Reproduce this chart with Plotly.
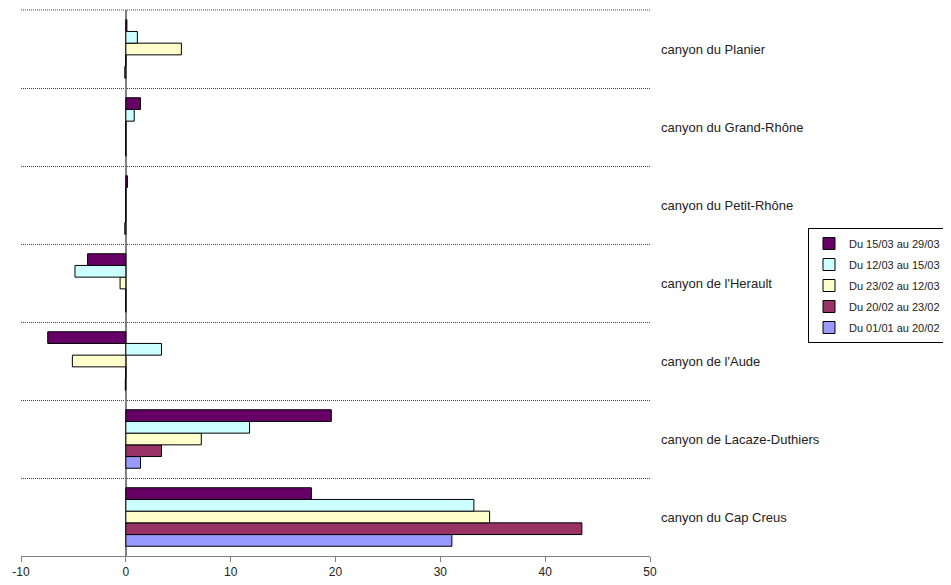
import plotly.graph_objects as go

categories = ["canyon du Cap Creus", "canyon de Lacaze-Duthiers", "canyon de l'Aude",
              "canyon de l'Herault", "canyon du Petit-Rhône", "canyon du Grand-Rhône",
              "canyon du Planier"]

# values listed in the same order as categories (bottom to top)
s_0101_2002 = [31.1, 1.4, -0.05, 0.0, -0.1, 0.0, -0.1]
s_2002_2302 = [43.5, 3.4, 0.0, 0.0, 0.0, 0.0, 0.0]
s_2302_1203 = [34.7, 7.2, -5.1, -0.55, 0.0, 0.0, 5.3]
s_1203_1503 = [33.2, 11.8, 3.4, -4.85, 0.0, 0.8, 1.1]
s_1503_2903 = [17.7, 19.6, -7.45, -3.65, 0.15, 1.4, 0.1]

series_names = ["Du 01/01 au 20/02", "Du 20/02 au 23/02", "Du 23/02 au 12/03",
                "Du 12/03 au 15/03", "Du 15/03 au 29/03"]
series_values = [s_0101_2002, s_2002_2302, s_2302_1203, s_1203_1503, s_1503_2903]
series_colors = ["#9999FF", "#993366", "#FFFFCC", "#CCFFFF", "#660066"]

x_ticks = [-10, 0, 10, 20, 30, 40, 50]

W, H = 943, 577  # page body has an 8px margin

fig = go.Figure()
n = len(series_names)
for i, (name, vals, col) in enumerate(zip(series_names, series_values, series_colors)):
    fig.add_trace(go.Bar(
        y=categories, x=vals, name=name, orientation="h",
        legendgroup=f"g{i}", legendrank=100 + (n - i),
        marker=dict(color=col, line=dict(color="#000000", width=1)),
    ))

fig.update_layout(
    width=W, height=H,
    paper_bgcolor="white", plot_bgcolor="white",
    barmode="group", bargap=0.25, bargroupgap=0,
    margin=dict(l=13, r=301, t=2, b=29),
    font=dict(family="Liberation Sans, Arial, sans-serif", size=12, color="#222"),
    showlegend=True,
    legend=dict(
        traceorder="grouped", tracegroupgap=2,
        xref="container", yref="container",
        x=800/W, y=1-220/H, xanchor="left", yanchor="top",
        bordercolor="#000", borderwidth=1, bgcolor="white",
        font=dict(size=11, color="#222"),
        itemwidth=30,
    ),
    shapes=[dict(type="line", xref="paper", yref="paper", x0=0, x1=1, y0=1, y1=1,
                 line=dict(color="#444", width=1, dash="1px,1px"))],
)

fig.update_xaxes(
    range=[-10, 50], tickvals=x_ticks, ticktext=[str(v) for v in x_ticks],
    showgrid=False, zeroline=True, zerolinecolor="#808080", zerolinewidth=2,
    showline=True, linecolor="#808080", linewidth=1,
    ticks="outside", ticklen=5, tickcolor="#808080",
    tickfont=dict(size=12, color="#222"), automargin=False,
)

fig.update_yaxes(
    type="category", categoryorder="array", categoryarray=categories,
    side="right", tickson="boundaries", ticks="", ticklabelstandoff=10,
    showgrid=True, gridcolor="#444", griddash="1px,1px", gridwidth=1,
    showline=False, zeroline=False, automargin=False,
    tickfont=dict(size=13, color="#222"),
)

fig.write_html("out.html")
